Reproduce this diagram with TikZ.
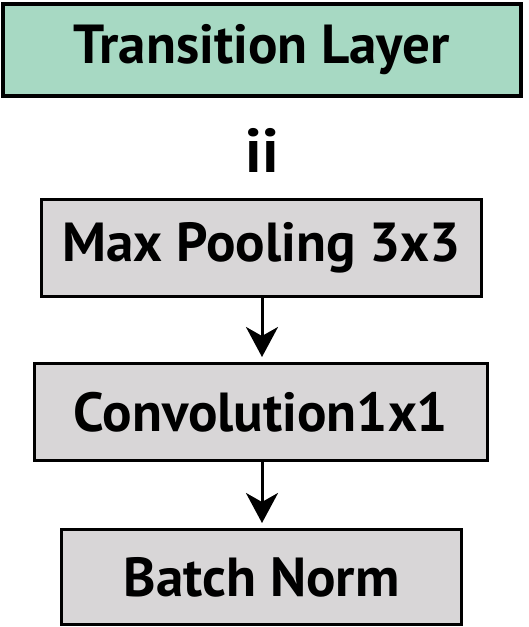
\documentclass[tikz,border=0pt]{standalone}
\usepackage{fontspec}
\setmainfont{PT Sans}
\usetikzlibrary{arrows.meta}
\definecolor{tgreen}{HTML}{A7D9C3}
\definecolor{tgray}{HTML}{D8D6D7}
\tikzset{bigfont/.style={font=\fontsize{55}{62}\selectfont\bfseries}}
\begin{document}
\begin{tikzpicture}[x=1pt,y=-1pt,
  box/.style={draw=black,line width=3pt,inner sep=0pt,fill=tgray,bigfont},
  conn/.style={line width=3pt,-{Stealth[length=30pt,width=32pt,inset=9pt]},shorten <=0pt,shorten >=5pt}]
\useasboundingbox (0,0) rectangle (529,627);
\node[box,fill=tgreen,line width=4pt,minimum width=518pt,minimum height=92pt] (tl) at (262,50) {Transition Layer};
\node[font=\fontsize{62}{68}\selectfont\bfseries,anchor=base,inner sep=0pt] (ii) at (262,172) {ii};
\node[box,minimum width=440pt,minimum height=97pt] (mp) at (261.5,248) {Max Pooling 3x3};
\node[box,minimum width=453pt,minimum height=97pt] (cv) at (261,412) {Convolution1x1};
\node[box,minimum width=400pt,minimum height=95pt] (bn) at (261.5,577) {Batch Norm};
\draw[conn] (mp.south -| 262,0) -- (cv.north -| 262,0);
\draw[conn] (cv.south -| 262,0) -- (bn.north -| 262,0);
\end{tikzpicture}
\end{document}
